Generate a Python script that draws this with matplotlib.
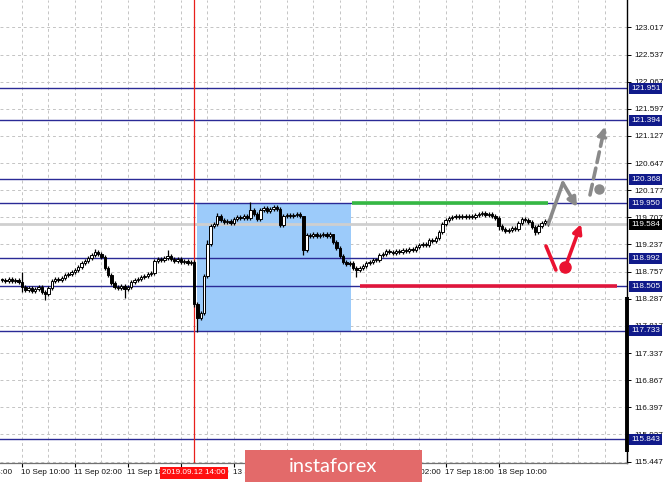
import matplotlib
matplotlib.use('Agg')
import matplotlib.pyplot as plt
import matplotlib.transforms as mtransforms

# ---------------- data ----------------
first_open = 118.620
closes = [
    118.614, 118.597, 118.632, 118.597, 118.614, 118.580, 118.493, 118.440, 118.475, 118.423,
    118.458, 118.493, 118.406, 118.371, 118.475, 118.597, 118.632, 118.614, 118.649, 118.701,
    118.719, 118.754, 118.788, 118.841, 118.910, 118.945, 118.997, 119.049, 119.102, 119.067,
    119.015, 118.823, 118.701, 118.562, 118.493, 118.475, 118.510, 118.458, 118.493, 118.580,
    118.614, 118.632, 118.667, 118.684, 118.719, 118.736, 118.945, 118.980, 118.962, 118.997,
    119.032, 118.980, 118.945, 118.980, 118.928, 118.945, 118.910, 118.928, 118.197, 117.953,
    118.040, 118.684, 119.241, 119.554, 119.589, 119.728, 119.658, 119.624, 119.641, 119.606,
    119.676, 119.711, 119.693, 119.728, 119.693, 119.832, 119.763, 119.676, 119.832, 119.867,
    119.815, 119.850, 119.885, 119.850, 119.571, 119.728, 119.745, 119.728, 119.745, 119.763,
    119.728, 119.136, 119.397, 119.380, 119.415, 119.380, 119.397, 119.415, 119.380, 119.415,
    119.276, 119.171, 119.032, 118.928, 118.893, 118.910, 118.823, 118.788, 118.823, 118.858,
    118.910, 118.928, 118.962, 118.962, 119.049, 119.067, 119.119, 119.102, 119.084, 119.119,
    119.102, 119.136, 119.119, 119.154, 119.136, 119.189, 119.223, 119.241, 119.223, 119.310,
    119.293, 119.345, 119.450, 119.589, 119.658, 119.693, 119.711, 119.728, 119.711, 119.728,
    119.711, 119.728, 119.711, 119.745, 119.763, 119.780, 119.745, 119.763, 119.728, 119.693,
    119.554, 119.502, 119.467, 119.484, 119.519, 119.502, 119.606, 119.676, 119.658, 119.624,
    119.537, 119.450, 119.554, 119.606, 119.641, 119.589,
]
high_override = {6: 118.754, 28: 119.154, 50: 119.136, 75: 119.972, 62: 119.310,
                 65: 119.780, 91: 119.250, 100: 119.420, 145: 119.820}
low_override = {6: 118.406, 13: 118.266, 37: 118.301, 59: 117.709, 107: 118.667,
                91: 119.050, 58: 118.150, 150: 119.480, 161: 119.400}

ytick_values = [123.017, 122.537, 122.067, 121.597, 121.127, 120.647, 120.177, 119.707,
                119.237, 118.757, 118.287, 117.817, 117.337, 116.867, 116.397, 115.927, 115.447]
price_levels = [121.951, 121.394, 120.368, 119.950, 118.992, 118.505, 117.733, 115.843]
bid_price = 119.584

date_label_idx = [-10, 6, 22, 38, 54, 70, 86, 102, 118, 134, 150]
date_labels = ['9 Sep 18:00', '10 Sep 10:00', '11 Sep 02:00', '11 Sep 18:00', '12 Sep 10:00',
               '13 Sep 02:00', '13 Sep 18:00', '16 Sep 10:00', '17 Sep 02:00',
               '17 Sep 18:00', '18 Sep 10:00']
marker_idx = 58
marker_label = '2019.09.12 14:00'

zone_x = (58.9, 105.4)
zone_y = (117.733, 119.950)
green_level, green_x = 119.950, (105.7, 165.0)
red_level, red_x = 118.505, (108.1, 185.8)

gray_path_x = [165.0, 169.4, 173.7]
gray_path_y = [119.589, 120.302, 119.885]
gray_dash_x = [177.6, 182.1]
gray_dash_y = [120.094, 121.290]
gray_dot = (180.3, 120.197)
red_stroke_x = [164.3, 167.3]
red_stroke_y = [119.206, 118.788]
red_dot = (170.0, 118.840)
red_arrow_x = [170.7, 174.9]
red_arrow_y = [118.928, 119.589]

XLIM = (-0.647, 188.78)
YLIM = (115.429, 123.487)

# ---------------- figure ----------------
FONT = 'Liberation Sans'
plt.rcParams['font.family'] = [FONT, 'DejaVu Sans']
W, H = 665, 482
FS = 5.9
fig = plt.figure(figsize=(W / 100, H / 100), dpi=100)
fig.patch.set_facecolor('white')
ax = fig.add_axes([0, 19 / H, 627 / W, 463 / H])
ax.set_autoscale_on(False)
ax.set_xlim(*XLIM)
ax.set_ylim(*YLIM)

NAVY = '#101a8a'
LINE = '#2a2a96'

# grid
for v in ytick_values:
    ax.axhline(v, color='#c4c4c4', lw=0.7, ls=(0, (3, 3)), zorder=0)
for k in range(6, 189, 8):
    ax.axvline(k, color='#c4c4c4', lw=0.7, ls=(0, (3, 3)), zorder=0)

# zone rectangle
ax.fill_between(zone_x, zone_y[0], zone_y[1], color='#9ccbfa', lw=0, zorder=1)

# bid line
ax.axhline(bid_price, color='#cfcfcf', lw=2, zorder=1.2)

# horizontal levels
for v in price_levels:
    ax.axhline(v, color=LINE, lw=1, zorder=1.5)

# red marker line
ax.axvline(marker_idx, color='#e8201c', lw=0.9, zorder=1.6)

# candles
opens = [first_open] + closes[:-1]
for i, (o, c) in enumerate(zip(opens, closes)):
    hi = high_override.get(i, max(o, c) + 0.028)
    lo = low_override.get(i, min(o, c) - 0.028)
    ax.plot([i, i], [lo, hi], color='black', lw=0.9, zorder=3, solid_capstyle='butt')
    body_h = max(abs(c - o), 0.012)
    bottom = min(o, c)
    if c >= o:
        ax.bar(i, body_h, bottom=bottom, width=0.72, color='white', edgecolor='black',
               linewidth=0.7, zorder=4)
    else:
        ax.bar(i, body_h, bottom=bottom, width=0.72, color='black', edgecolor='black',
               linewidth=0.7, zorder=4)

# green / red levels
ax.plot(green_x, [green_level] * 2, color='#35b843', lw=2.6, zorder=5, solid_capstyle='butt')
ax.plot(red_x, [red_level] * 2, color='#e0163c', lw=2.6, zorder=5, solid_capstyle='butt')

# gray projection
GRAY = '#8a8a8a'
ax.plot(gray_path_x[:2], gray_path_y[:2], color=GRAY, lw=2.6, zorder=6, solid_capstyle='round')
ax.annotate('', xy=(gray_path_x[2], gray_path_y[2]), xytext=(gray_path_x[1], gray_path_y[1]),
            arrowprops=dict(arrowstyle='-|>', color=GRAY, lw=2.6, mutation_scale=13,
                            shrinkA=0, shrinkB=0), zorder=6)
ax.annotate('', xy=(gray_dash_x[1], gray_dash_y[1]), xytext=(gray_dash_x[0], gray_dash_y[0]),
            arrowprops=dict(arrowstyle='-|>', color=GRAY, lw=2.6, mutation_scale=13,
                            linestyle=(0, (3, 1.6)), shrinkA=0, shrinkB=0), zorder=6)
ax.plot([gray_dot[0]], [gray_dot[1]], 'o', color=GRAY, ms=6.5, zorder=7)

# red projection
RED = '#ea1230'
ax.plot(red_stroke_x, red_stroke_y, color=RED, lw=2.6, zorder=6, solid_capstyle='round')
ax.plot([red_dot[0]], [red_dot[1]], 'o', color=RED, ms=8, zorder=7)
ax.annotate('', xy=(red_arrow_x[1], red_arrow_y[1]), xytext=(red_arrow_x[0], red_arrow_y[0]),
            arrowprops=dict(arrowstyle='-|>', color=RED, lw=2.6, mutation_scale=13,
                            shrinkA=0, shrinkB=0), zorder=6)

# spines
for s in ('top', 'left'):
    ax.spines[s].set_visible(False)
ax.spines['right'].set_color('black')
ax.spines['right'].set_linewidth(1)
ax.spines['bottom'].set_color('#707070')
ax.spines['bottom'].set_linewidth(0.9)

# thick right bar
ax.plot([1.0, 1.0], [1 - 297 / 463, 1 - 452 / 463], transform=ax.transAxes, color='black',
        lw=2.8, clip_on=False, zorder=8, solid_capstyle='butt')

# y ticks (right)
ax.yaxis.tick_right()
ax.set_yticks(ytick_values)
ax.set_yticklabels([f'{v:.3f}' for v in ytick_values], fontsize=FS, color='#111111')
ax.tick_params(axis='y', length=3, width=0.7, pad=2, colors='black', labelcolor='#111111')

# x ticks
ax.set_xticks(date_label_idx)
ax.set_xticklabels([''] * len(date_label_idx))
ax.tick_params(axis='x', length=3, width=0.8, colors='black')
ax.set_xlim(*XLIM)
ax.set_ylim(*YLIM)

trans_x = mtransforms.blended_transform_factory(ax.transData, ax.transAxes)
for k, lab in zip(date_label_idx, date_labels):
    ax.text(k - 0.3, -10 / 463, lab, transform=trans_x, fontsize=FS, ha='left', va='center',
            color='#111111', clip_on=False, zorder=5)
ax.text(marker_idx, -10 / 463, marker_label, transform=trans_x, fontsize=FS, ha='center',
        va='center', color='white', clip_on=False, zorder=9,
        bbox=dict(boxstyle='square,pad=0.25', fc='#ff1010', ec='none'))

# right price labels
trans_y = mtransforms.blended_transform_factory(ax.transAxes, ax.transData)
for v in price_levels:
    ax.text(1.0 + 4 / 627, v, f'{v:.3f}', transform=trans_y, fontsize=FS, ha='left',
            va='center', color='white', clip_on=False, zorder=10,
            bbox=dict(boxstyle='square,pad=0.22', fc=NAVY, ec='none'))
ax.text(1.0 + 4 / 627, bid_price, f'{bid_price:.3f}', transform=trans_y, fontsize=FS,
        ha='left', va='center', color='white', clip_on=False, zorder=10,
        bbox=dict(boxstyle='square,pad=0.22', fc='black', ec='none'))

# banner
bx = fig.add_axes([245 / W, 0, 177 / W, 32 / H])
bx.set_facecolor('#e36a6a')
for s in bx.spines.values():
    s.set_visible(False)
bx.set_xticks([])
bx.set_yticks([])
bx.text(0.5, 0.5, 'instaforex', ha='center', va='center', color='white', fontsize=14.5,
        fontfamily='Lato', fontweight='normal', transform=bx.transAxes)

fig.savefig('out.png', dpi=100)
